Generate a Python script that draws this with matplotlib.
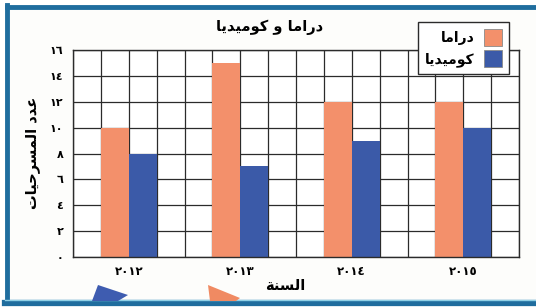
import matplotlib
matplotlib.use("Agg")
import matplotlib.pyplot as plt
import numpy as np
from matplotlib.patches import Polygon, Rectangle

# Data (Arabic text stored in visual order with presentation forms)
years = ["٢٠١٢", "٢٠١٣", "٢٠١٤", "٢٠١٥"]
drama = [10, 15, 12, 12]
comedy = [8, 7, 9, 10]
yticks = [0, 2, 4, 6, 8, 10, 12, 14, 16]
ytick_labels = ["٠", "٢", "٤", "٦", "٨", "١٠", "١٢", "١٤", "١٦"]
title = "ﺎﻳﺪﻴﻣﻮﻛ ﻭ ﺎﻣﺍﺭﺩ"
ylabel = "ﺕﺎﻴﺣﺮﺴﻤﻟﺍ ﺩﺪﻋ"
xlabel = "ﺔﻨﺴﻟﺍ"
drama_name = "ﺎﻣﺍﺭﺩ"
comedy_name = "ﺎﻳﺪﻴﻣﻮﻛ"

plt.rcParams['font.family'] = ['DejaVu Sans']

W, H = 536, 308
fig = plt.figure(figsize=(W / 100, H / 100), dpi=100)
fig.patch.set_facecolor("white")

def fx(px):
    return px / W

def fy(py):
    return 1 - py / H

# Frame
frame_col = "#1f6d9e"
fig.add_artist(Rectangle((fx(5), fy(303)), fx(540) - fx(5), fy(5) - fy(303),
                         transform=fig.transFigure, facecolor="#fdfdfb",
                         edgecolor="none", zorder=0))
fig.add_artist(plt.Line2D([fx(7), fx(540)], [fy(6.5), fy(6.5)], transform=fig.transFigure,
                          color=frame_col, lw=3.5, zorder=1))
fig.add_artist(plt.Line2D([fx(7), fx(7)], [fy(5), fy(302)], transform=fig.transFigure,
                          color=frame_col, lw=3.5, zorder=1))
fig.add_artist(plt.Line2D([fx(5), fx(540)], [fy(302.5), fy(302.5)], transform=fig.transFigure,
                          color=frame_col, lw=4.5, zorder=1))
fig.add_artist(plt.Line2D([fx(5), fx(540)], [fy(300), fy(300)], transform=fig.transFigure,
                          color="#8fd0e6", lw=1, zorder=1))

# Decorative arrows at bottom
fig.add_artist(Polygon([(fx(98), fy(285)), (fx(128), fy(295)), (fx(118), fy(301)),
                        (fx(92), fy(301))], closed=True, transform=fig.transFigure,
                       facecolor="#3e5cb0", edgecolor="none", zorder=2))
fig.add_artist(Polygon([(fx(208), fy(285)), (fx(240), fy(298)), (fx(236), fy(301)),
                        (fx(210), fy(301))], closed=True, transform=fig.transFigure,
                       facecolor="#f08a62", edgecolor="none", zorder=2))

ax = fig.add_axes([fx(73), fy(257), fx(519) - fx(73), fy(50) - fy(257)])
ax.set_facecolor("white")

n_cols = 16
group_centers = np.array([2, 6, 10, 14])
orange = "#f3906b"
blue = "#3b5aa8"

ax.bar(group_centers - 0.5, drama, width=1.0, color=orange, zorder=2, label=drama_name)
ax.bar(group_centers + 0.5, comedy, width=1.0, color=blue, zorder=2, label=comedy_name)

ax.set_xlim(0, n_cols)
ax.set_ylim(0, 16)

# Grid
for x in range(n_cols + 1):
    ax.axvline(x, color="#2b2b2b", lw=0.9, zorder=1)
for y in yticks:
    ax.axhline(y, color="#2b2b2b", lw=0.9, zorder=1)

for s in ax.spines.values():
    s.set_color("#2b2b2b")
    s.set_linewidth(1.0)

ax.set_yticks(yticks)
ax.set_yticklabels(ytick_labels, fontsize=8, fontweight="bold")
ax.set_xticks(group_centers)
ax.set_xticklabels(years, fontsize=8.5, fontweight="bold")
ax.tick_params(axis="y", length=0, pad=7)
ax.tick_params(axis="x", length=0, pad=6)

fig.text(fx(270), fy(27), title, ha="center", va="center", fontsize=10.5, fontweight="bold")
fig.text(fx(33), fy(153), ylabel, ha="center", va="center", rotation=90, fontsize=10.5,
         fontweight="bold")
fig.text(fx(285), fy(285), xlabel, ha="center", va="center", fontsize=10.5, fontweight="bold")

leg = ax.legend(loc="upper left", bbox_to_anchor=(fx(418), fy(22)), bbox_transform=fig.transFigure,
                markerfirst=False, frameon=True, fancybox=False,
                prop={"weight": "bold", "size": 10}, handlelength=1.3, handleheight=1.5,
                borderpad=0.5, labelspacing=0.3, handletextpad=0.7, borderaxespad=0)
leg.get_frame().set_edgecolor("#2b2b2b")
leg.get_frame().set_linewidth(1.0)
leg.get_frame().set_alpha(1)
for h in leg.legend_handles:
    h.set_edgecolor("#8a8a8a")
    h.set_linewidth(0.6)
try:
    for col in leg._legend_handle_box.get_children():
        col.align = "right"
except Exception:
    pass
leg.set_zorder(5)

fig.savefig("out.png", dpi=100)
